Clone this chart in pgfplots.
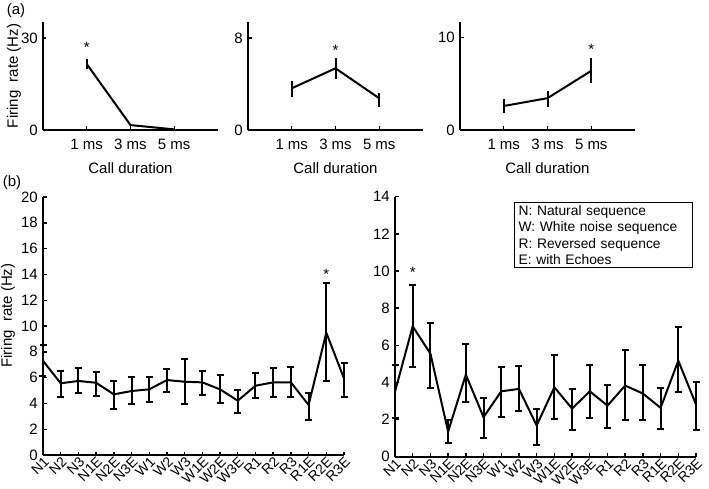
\documentclass[border=0pt]{standalone}
\usepackage{pgfplots}
\pgfplotsset{compat=1.18}
\usepackage{fontspec}
\setmainfont{Liberation Sans}
\newcommand{\tf}{\fontsize{15}{17}\selectfont}
\begin{document}
\tf
\begin{tikzpicture}
\useasboundingbox (0,0) rectangle (709pt,488pt);
\pgfplotsset{
  every axis/.append style={
    scale only axis,
    axis lines*=left,
    axis line style={line width=1.8pt,-},
    tick style={line width=1.4pt,black},
    major tick length=3.5pt,
    tick align=inside,
    ticklabel style={font=\tf},
    label style={font=\tf},
    /pgf/number format/assume math mode=true,
    clip=false,
    anchor=south west,
  },
  pa/.style={width=175pt,height=108pt,xmin=0,xmax=4,ymin=0,
    xtick={1,2,3},xticklabels={1 ms,3 ms,5 ms},
    xticklabel style={yshift=-4pt},
    xlabel={Call duration},
    xlabel style={at={(axis description cs:0.5,0)},anchor=center,yshift=-38pt}},
  pb/.style={width=301pt,xmin=0,xmax=17,ymin=0,
    xtick={0,...,17},
    xticklabels={N1,N2,N3,N1E,N2E,N3E,W1,W2,W3,W1E,W2E,W3E,R1,R2,R3,R1E,R2E,R3E},
    xticklabel style={rotate=45,anchor=north east,inner sep=0.5pt,font=\fontsize{14}{16}\selectfont}},
  ea/.style={black,line width=2pt,mark=none,
    error bars/.cd,y dir=both,y explicit,error mark=none,
    error bar style={line width=2pt}},
  eb/.style={black,line width=2pt,mark=none,
    error bars/.cd,y dir=both,y explicit,error mark=-,
    error bar style={line width=2pt},
    error mark options={rotate=90,mark size=3.5pt,line width=2pt}},
}
% ---------- panel (a) ----------
\begin{axis}[pa,at={(43pt,358pt)},ymax=35.2,ytick={0,30},
  ylabel={Firing\ \ rate (Hz)},
  ylabel style={at={(axis description cs:-0.166,0.5)},anchor=center}]
\addplot[ea] table[x=x,y=y,y error=e]{
x y e
1 21.5 1.7
2 1.6 0.2
3 0.2 0.1
};
\node[yshift=-3pt] at (axis cs:1,28) {*};
\end{axis}
\begin{axis}[pa,at={(248pt,358pt)},ymax=9.4,ytick={0,8}]
\addplot[ea] table[x=x,y=y,y error plus=ep,y error minus=em]{
x y ep em
1 3.63 0.63 0.73
2 5.37 0.86 0.94
3 2.76 0.48 0.73
};
\node[yshift=-3pt] at (axis cs:2,7.2) {*};
\end{axis}
\begin{axis}[pa,at={(460pt,358pt)},ymax=11.7,ytick={0,10}]
\addplot[ea] table[x=x,y=y,y error plus=ep,y error minus=em]{
x y ep em
1 2.6 0.77 0.79
2 3.45 0.82 0.98
3 6.41 1.38 1.34
};
\node[yshift=-3pt] at (axis cs:3,9.05) {*};
\end{axis}
% ---------- panel (b) ----------
\begin{axis}[pb,at={(43pt,33pt)},height=258pt,ymax=20,ytick={0,2,...,20},
  ylabel={Firing\ \ rate (Hz)},
  ylabel style={at={(axis description cs:-0.116,0.54)},anchor=center}]
\addplot[eb] table[x=x,y=y,y error plus=ep,y error minus=em]{
x y ep em
0 7.30 1.20 1.20
1 5.56 0.95 1.09
2 5.74 1.03 0.96
3 5.60 0.86 1.00
4 4.70 1.04 1.13
5 4.96 1.06 1.03
6 5.09 0.93 0.96
7 5.81 0.88 0.90
8 5.68 1.76 1.75
9 5.63 0.91 0.98
10 5.09 1.11 1.03
11 4.21 0.83 0.98
12 5.37 0.96 0.98
13 5.63 1.14 1.16
14 5.63 1.17 1.11
15 3.88 0.90 1.17
16 9.48 3.88 3.74
17 5.94 1.16 1.42
};
\node[yshift=-3pt] at (axis cs:16,14.26) {*};
\end{axis}
\begin{axis}[pb,at={(395pt,31.3pt)},height=260pt,ymax=14,ytick={0,2,...,14}]
\addplot[eb] table[x=x,y=y,y error plus=ep,y error minus=em]{
x y ep em
0 3.50 1.43 1.40
1 7.02 2.24 2.20
2 5.55 1.65 1.85
3 1.35 0.65 0.63
4 4.42 1.67 1.45
5 2.13 1.04 1.13
6 3.52 1.32 1.38
7 3.65 1.26 1.20
8 1.68 0.89 1.06
9 3.74 1.72 1.69
10 2.59 1.06 1.16
11 3.52 1.44 1.43
12 2.75 1.13 1.23
13 3.83 1.94 1.87
14 3.40 1.56 1.44
15 2.63 1.07 1.13
16 5.17 1.80 1.70
17 2.81 1.19 1.38
};
\node[yshift=-3pt] at (axis cs:1,10.07) {*};
\end{axis}
\node at (16pt,477pt) {(a)};
\node at (12pt,305pt) {(b)};
\node[draw,line width=1.4pt,anchor=north west,align=left,inner xsep=4pt,inner ysep=3pt,
  text width=170pt,font=\fontsize{13.8}{16.3}\selectfont] at (514pt,286pt)
  {N: Natural sequence\\W: White noise sequence\\R: Reversed sequence\\E: with Echoes};
\end{tikzpicture}
\end{document}
